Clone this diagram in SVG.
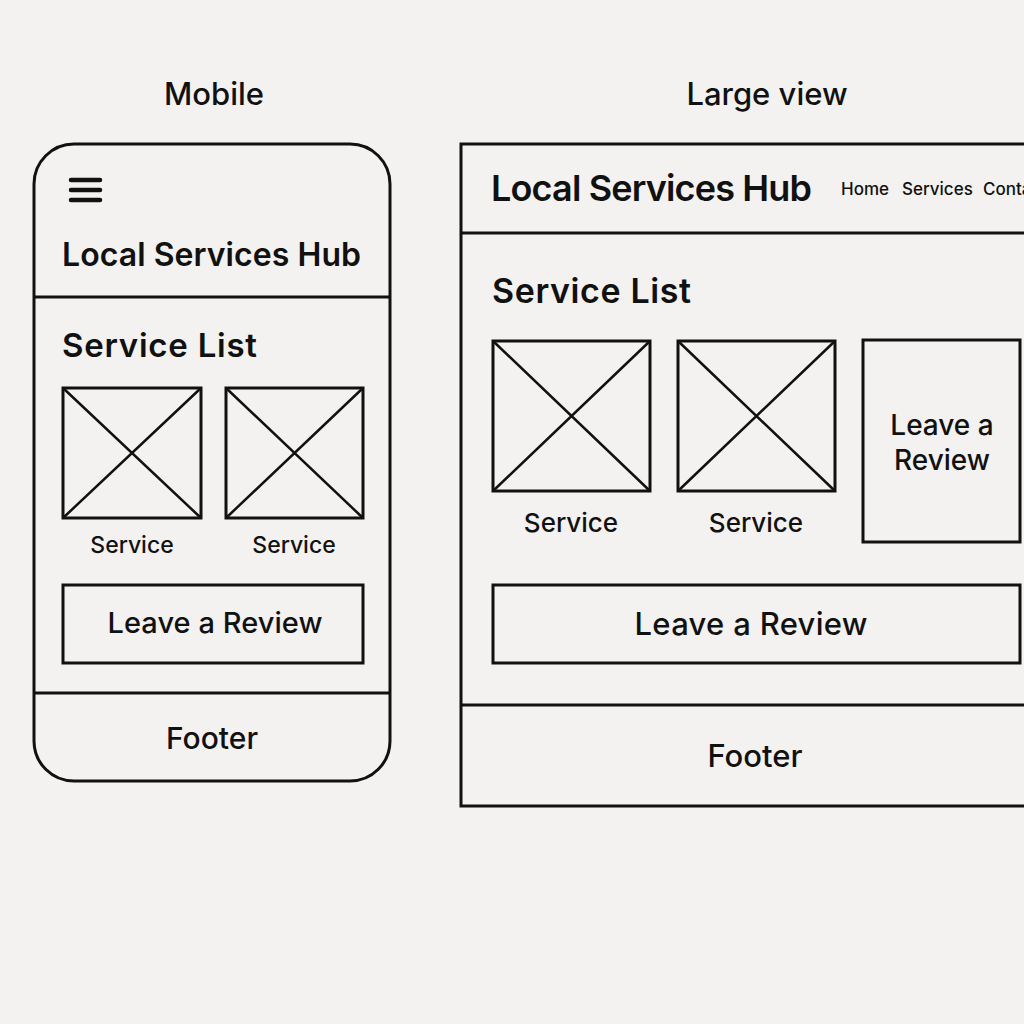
<svg xmlns="http://www.w3.org/2000/svg" width="1024" height="1024" viewBox="0 0 1024 1024">
<style>
.ln{fill:none;stroke:#111;stroke-width:3}
.th{stroke:#111;stroke-width:2.5}
.hb{stroke:#111;stroke-width:4.5;stroke-linecap:round}
text{font-family:Inter,"Liberation Sans",sans-serif;fill:#111}
.h{font-weight:600}
.m{font-weight:500}
.c{text-anchor:middle}
</style>
<rect width="1024" height="1024" fill="#f3f2f0"/>
<text class="m c" x="214" y="105" font-size="31">Mobile</text>
<text class="m c" x="767" y="105" font-size="31">Large view</text>
<g id="mobile">
<rect class="ln" x="34" y="144" width="356" height="637" rx="40"/>
<line class="hb" x1="71" y1="180" x2="100" y2="180"/>
<line class="hb" x1="71" y1="190" x2="100" y2="190"/>
<line class="hb" x1="71" y1="200" x2="100" y2="200"/>
<text class="h" x="62" y="266" font-size="32" textLength="299">Local Services Hub</text>
<line class="ln" x1="34" y1="297" x2="390" y2="297"/>
<text class="h" x="62" y="357" font-size="33" textLength="195">Service List</text>
<g id="m-img1"><rect class="ln" x="63" y="388" width="138" height="130"/><path class="th" d="M63 388L201 518M201 388L63 518"/></g>
<g id="m-img2"><rect class="ln" x="226" y="388" width="137" height="130"/><path class="th" d="M226 388L363 518M363 388L226 518"/></g>
<text class="m c" x="132" y="553" font-size="23">Service</text>
<text class="m c" x="294" y="553" font-size="23">Service</text>
<g id="m-review"><rect class="ln" x="63" y="585" width="300" height="78"/>
<text class="m c" x="215" y="633" font-size="29" textLength="215">Leave a Review</text></g>
<line class="ln" x1="34" y1="693" x2="390" y2="693"/>
<text class="m c" x="212" y="749" font-size="30">Footer</text>
</g>
<g id="large">
<rect class="ln" x="461" y="144" width="600" height="662"/>
<text class="h" x="491" y="201" font-size="36" textLength="321">Local Services Hub</text>
<text class="m" x="841" y="195" font-size="17">Home</text>
<text class="m" x="902" y="195" font-size="17">Services</text>
<text class="m" x="983" y="195" font-size="17">Contact</text>
<line class="ln" x1="461" y1="233" x2="1024" y2="233"/>
<text class="h" x="492" y="303" font-size="34" textLength="199">Service List</text>
<g id="l-img1"><rect class="ln" x="493" y="341" width="157" height="150"/><path class="th" d="M493 341L650 491M650 341L493 491"/></g>
<g id="l-img2"><rect class="ln" x="678" y="341" width="157" height="150"/><path class="th" d="M678 341L835 491M835 341L678 491"/></g>
<text class="m c" x="571" y="532" font-size="26">Service</text>
<text class="m c" x="756" y="532" font-size="26">Service</text>
<g id="l-review-card"><rect class="ln" x="863" y="340" width="157" height="202"/>
<text class="m c" x="942" y="435" font-size="28">Leave a</text>
<text class="m c" x="942" y="470" font-size="28">Review</text></g>
<g id="l-review"><rect class="ln" x="493" y="585" width="527" height="78"/>
<text class="m c" x="751" y="635" font-size="31" textLength="233">Leave a Review</text></g>
<line class="ln" x1="461" y1="705" x2="1024" y2="705"/>
<text class="m c" x="755" y="767" font-size="31">Footer</text>
</g>
</svg>
